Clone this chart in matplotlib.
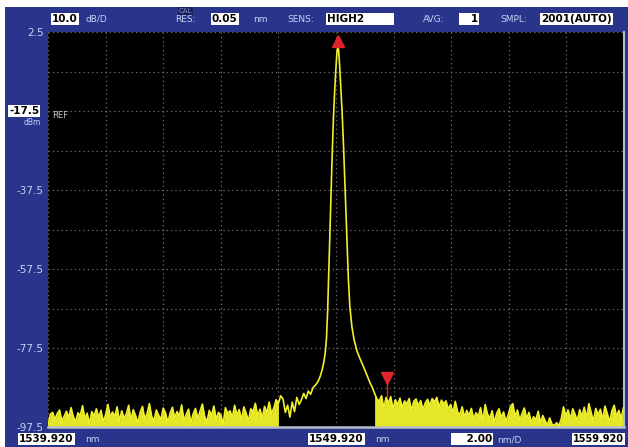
import numpy as np
import matplotlib
matplotlib.use("Agg")
import matplotlib.pyplot as plt
from matplotlib.patches import Rectangle

# span / scale settings of the analyser screen
wl_start = 1539.920
wl_center = 1549.920
wl_stop = 1559.920
nm_per_div = 2.00
ref_level = -17.5
db_per_div = 10.0
top_level = 2.5
bottom_level = -97.5

floor_step = 0.08
left_start = 1539.92
left_db = [
    -97.0, -94.3, -93.8, -95.6, -94.1, -93.2, -96.0, -94.8, -93.5, -95.2,
    -92.6, -94.9, -96.3, -93.9, -94.6, -92.1, -95.4, -94.0, -96.8, -93.6,
    -94.7, -92.9, -95.1, -93.3, -96.2, -94.4, -91.8, -95.0, -93.7, -94.9,
    -92.4, -96.1, -93.4, -95.3, -94.2, -92.0, -95.8, -93.1, -94.6, -96.5,
    -93.8, -92.3, -95.5, -94.1, -91.6, -94.8, -96.0, -93.2, -94.5, -95.7,
    -92.7, -93.9, -96.4, -94.0, -92.5, -95.2, -93.6, -94.7, -91.9, -95.9,
    -94.3, -93.0, -96.6, -94.2, -92.8, -95.4, -93.5, -91.7, -94.9, -96.2,
    -93.3, -94.6, -92.2, -95.6, -93.8, -94.4, -96.9, -92.6, -94.1, -93.4,
    -95.1, -92.0, -94.5, -93.1, -95.8, -92.4, -94.0, -96.1, -92.9, -93.6,
    -91.5, -94.7, -93.0, -95.3, -92.3, -93.9, -91.2, -94.2, -92.7, -90.6,
    -91.5, -89.6, -90.4, -93.8, -92.0, -95.0, -91.2, -93.6, -90.0, -91.8,
    -90.6, -89.0, -90.3, -88.4, -89.2, -87.6, -86.9,
]

core_wl = [
    1549.26, 1549.32, 1549.38, 1549.44, 1549.50, 1549.55, 1549.59, 1549.63,
    1549.67, 1549.71, 1549.75, 1549.79, 1549.83, 1549.87, 1549.91, 1549.95,
    1549.98, 1550.01, 1550.05, 1550.09, 1550.13, 1550.18, 1550.23, 1550.29,
    1550.35, 1550.40, 1550.47, 1550.55, 1550.65, 1550.77, 1550.89, 1551.00,
    1551.10, 1551.18,
]
core_db = [
    -86.4, -85.6, -84.5, -83.0, -81.0, -78.5, -75.0, -68.0,
    -58.0, -48.0, -38.0, -28.0, -19.5, -13.0, -7.5, -3.0,
    -1.0, -2.0, -6.5, -12.0, -17.5, -26.0, -36.0, -48.0,
    -60.0, -67.0, -72.0, -75.5, -78.3, -80.5, -82.5, -84.5,
    -86.3, -87.5,
]

right_start = 1551.26
right_db = [
    -89.0, -90.4, -91.0, -89.6, -92.8, -90.0, -91.5, -89.8, -93.0, -90.6,
    -91.9, -90.2, -92.6, -90.9, -91.7, -90.3, -93.4, -91.0, -90.4, -92.2,
    -90.8, -93.1, -91.4, -90.5, -92.0, -90.3, -91.2, -90.0, -92.5, -90.7,
    -91.6, -90.9, -93.0, -91.8, -94.0, -91.0, -93.6, -94.5, -92.4, -95.0,
    -93.3, -94.6, -92.8, -95.5, -93.9, -94.8, -92.6, -96.0, -91.8, -94.2,
    -95.3, -93.4, -96.4, -94.0, -92.9, -95.1, -93.7, -96.2, -94.4, -92.3,
    -91.6, -94.9, -93.2, -95.8, -94.1, -92.7, -95.4, -93.8, -96.3, -94.9,
    -95.7, -93.5, -96.5, -94.6, -95.9, -97.0, -95.2, -96.8, -97.1, -96.4,
    -97.2, -95.5, -92.4, -94.7, -93.2, -95.6, -92.9, -94.3, -96.0, -93.1,
    -94.8, -92.5, -95.3, -91.6, -93.9, -96.1, -92.8, -94.5, -93.0, -95.7,
    -92.2, -94.1, -96.3, -93.4, -92.0, -94.9, -93.3, -95.4, -92.7,
]

# markers: peak (up) and second marker (down)
mk2_wl = 1551.69
mk2_db = -89.9

left_wl = left_start + floor_step * np.arange(len(left_db))
right_wl = right_start + floor_step * np.arange(len(right_db))
wl = np.concatenate([left_wl, core_wl, right_wl])
db = np.concatenate([left_db, core_db, right_db])

W, H = 628, 447
fig = plt.figure(figsize=(W / 100, H / 100), dpi=100)
fig.patch.set_facecolor("white")
frame_col = "#28358a"
lab_col = "#c9d1f2"
fig.add_artist(Rectangle((5 / W, 0), 1, 1 - 7 / H, transform=fig.transFigure,
                         facecolor=frame_col, edgecolor="none", zorder=0))

ax = fig.add_axes([48 / W, 20 / H, 576 / W, 395 / H])
ax.set_facecolor("black")
ax.set_xlim(wl_start, wl_stop)
ax.set_ylim(bottom_level, top_level)

xt = np.arange(wl_start, wl_stop + 0.01, nm_per_div)
yt = np.arange(bottom_level, top_level + 0.01, db_per_div)
ax.set_xticks(xt)
ax.set_xticklabels([])
ax.set_yticks(yt)
ylabs = []
for v in yt:
    k = int(round((top_level - v) / db_per_div))
    if k % 2 == 0 and abs(v - ref_level) > 0.01:
        ylabs.append("%.1f" % v)
    else:
        ylabs.append("")
ax.set_yticklabels(ylabs)
ax.tick_params(length=0, colors=lab_col, labelsize=7.5, pad=3)
ax.grid(True, color="#707070", linestyle=(0, (1, 2.5)), linewidth=0.9)
for s in ["top", "left"]:
    ax.spines[s].set_visible(False)
ax.spines["bottom"].set_color("#b8bccc")
ax.spines["bottom"].set_linewidth(1.8)
ax.spines["right"].set_color("#b8bccc")
ax.spines["right"].set_linewidth(1.5)

trace_col = "#f0f02c"
lw_mask = left_wl < 1548.0
ax.fill_between(left_wl[lw_mask], bottom_level, np.array(left_db)[lw_mask],
                color="#e6e628", linewidth=0, zorder=2)
ax.fill_between(right_wl, bottom_level, right_db,
                color="#e6e628", linewidth=0, zorder=2)
ax.plot(wl, db, color=trace_col, linewidth=1.2, zorder=3)

ipk = int(np.argmax(db))
ax.plot(wl[ipk], db[ipk] + 1.2, marker="^", markersize=8.5,
        color="#e0242c", linestyle="none", zorder=4, clip_on=False)
ax.vlines(mk2_wl, mk2_db, mk2_db + 3.5, color="#e0242c", linewidth=1, zorder=4)
ax.plot(mk2_wl, mk2_db + 4.8, marker="v", markersize=8.5,
        color="#e0242c", linestyle="none", zorder=4)


def px(x, y):
    return x / W, 1 - y / H


def boxed(x, y, s, ha="left", size=7.5):
    fig.text(*px(x, y), s, fontsize=size, color="black", ha=ha, va="center",
             fontweight="bold",
             bbox=dict(boxstyle="square,pad=0.12", facecolor="white",
                       edgecolor="none"))


def plain(x, y, s, size=6.5):
    fig.text(*px(x, y), s, fontsize=size, color=lab_col, ha="left", va="center")


# top status line
boxed(52, 19, "%.1f" % db_per_div)
plain(86, 19, "dB/D")
fig.text(*px(179, 11), "CAL", fontsize=5, color="#8090c8", ha="left",
         va="center", bbox=dict(boxstyle="square,pad=0.1", facecolor="#1a2260",
                                edgecolor="none"))
plain(175, 19, "RES:")
boxed(212, 19, "0.05")
plain(253, 19, "nm")
plain(287, 19, "SENS:")
boxed(327, 19, "HIGH2        ")
plain(423, 19, "AVG:")
boxed(478, 19, "   1", ha="right")
plain(500, 19, "SMPL:")
boxed(541, 19, "2001(AUTO)")

# reference level
boxed(9, 111, "%.1f" % ref_level)
fig.text(*px(24, 123), "dBm", fontsize=5.5, color=lab_col, ha="left",
         va="center")
ax.text(0.007, ref_level, "REF", fontsize=6, color="#c8c8c8",
        transform=ax.get_yaxis_transform(), ha="left", va="top")

# bottom status line
boxed(19, 439, "%.3f" % wl_start)
plain(85, 440, "nm")
boxed(309, 439, "%.3f" % wl_center)
plain(375, 440, "nm")
boxed(492, 439, "    %.2f" % nm_per_div, ha="right")
plain(497, 440, "nm/D")
boxed(624, 439, "%.3f" % wl_stop, ha="right", size=7)

fig.savefig("out.png", dpi=100, facecolor=fig.get_facecolor())
